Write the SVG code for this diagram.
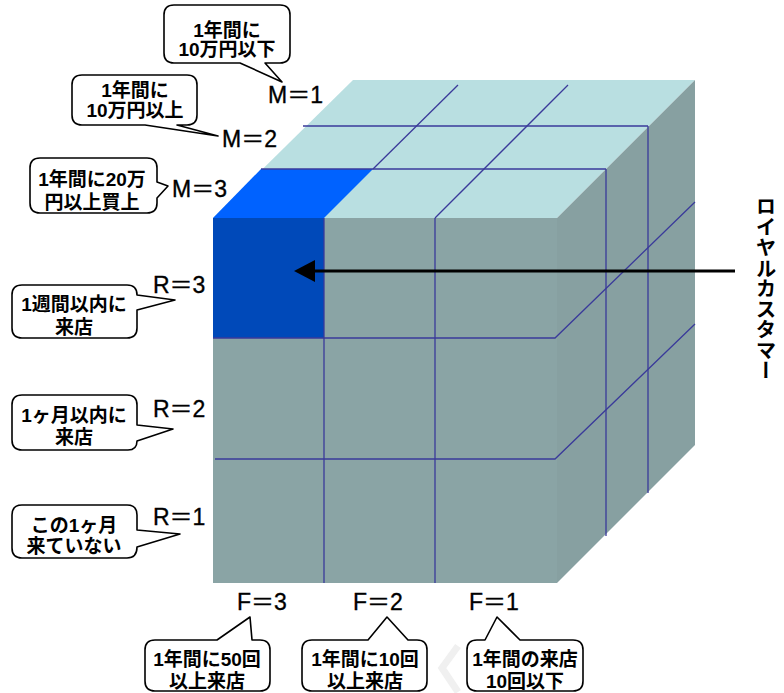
<svg xmlns="http://www.w3.org/2000/svg" width="784" height="693" viewBox="0 0 784 693">
<style>
.bub{fill:#fff;stroke:#000;stroke-width:1.6;stroke-linejoin:round}
.bt{font-family:"Liberation Sans","Noto Sans CJK JP",sans-serif;font-weight:bold;font-size:19px;fill:#000;text-anchor:middle}
.lb{font-family:"Liberation Sans","Noto Sans CJK JP",sans-serif;font-size:23px;fill:#000;stroke:#000;stroke-width:0.35}
.g{stroke:#3a3a9a;stroke-width:1.3;fill:none}
</style>
<rect width="784" height="693" fill="#fff"/>
<g id="cube">
<polygon points="213,218 557,218 695,80 353,80" fill="#b9dfe1"/>
<polygon points="557,218 695,80 695,445 557,583" fill="#87a0a1"/>
<rect x="213" y="218" width="344" height="365" fill="#8aa4a5"/>
<polygon points="213,218 324,218 373,169 261,169" fill="#0062ff"/>
<rect x="213" y="218" width="111" height="120" fill="#0049b9"/>
<g class="g">
<line x1="303" y1="126" x2="648" y2="126"/>
<line x1="261" y1="169" x2="606" y2="169"/>
<line x1="458" y1="85" x2="373" y2="169"/>
<line x1="568" y1="85" x2="435" y2="218"/>
<line x1="606" y1="169" x2="606" y2="536"/>
<line x1="648" y1="126" x2="648" y2="493"/>
<line x1="324" y1="218" x2="324" y2="583"/>
<line x1="435" y1="218" x2="435" y2="583"/>
<polyline points="213,338 555,338 695,202"/>
<polyline points="215,459 555,459 695,324"/>
</g>
</g>
<g id="connectors">
<line x1="735" y1="271" x2="310" y2="271" stroke="#000" stroke-width="3"/>
<polygon points="294,271 315,260 315,282" fill="#000"/>
</g>
<g id="royal">
<text x="766" y="196" style="writing-mode:vertical-rl;font-family:'Noto Sans CJK JP',sans-serif;font-weight:bold;font-size:20.5px" fill="#000">ロイヤルカスタマー</text>
</g>
<g id="m1">
<path class="bub" d="M174,5 H280 Q290,5 290,15 V53 Q290,63 280,63 H265 L282,82 L240,63 H174 Q164,63 164,53 V15 Q164,5 174,5 Z"/>
<text class="bt" x="227" y="37">1年間に</text>
<text class="bt" x="227" y="56">10万円以下</text>
<text class="lb" x="268" y="103">M＝1</text>
</g>
<g id="m2">
<path class="bub" d="M82,75 H187 Q197,75 197,85 V115 Q197,125 187,125 H177 L218,136 L145,125 H82 Q72,125 72,115 V85 Q72,75 82,75 Z"/>
<text class="bt" x="135" y="97">1年間に</text>
<text class="bt" x="135" y="117">10万円以上</text>
<text class="lb" x="222" y="147">M＝2</text>
</g>
<g id="m3">
<path class="bub" d="M40,158 H147 Q157,158 157,168 V182 L168,186 L157,198 V203 Q157,213 147,213 H40 Q30,213 30,203 V168 Q30,158 40,158 Z"/>
<text class="bt" x="92" y="186">1年間に20万</text>
<text class="bt" x="92" y="209">円以上買上</text>
<text class="lb" x="172" y="197">M＝3</text>
</g>
<g id="r3">
<path class="bub" d="M22,285 H127 Q137,285 137,295 L175,300 L137,310 V328 Q137,338 127,338 H22 Q12,338 12,328 V295 Q12,285 22,285 Z"/>
<text class="bt" x="74" y="311">1週間以内に</text>
<text class="bt" x="74" y="334">来店</text>
<text class="lb" x="153" y="293">R＝3</text>
</g>
<g id="r2">
<path class="bub" d="M22,395 H127 Q137,395 137,405 V425 L173,429 L137,441 Q137,450 128,450 H22 Q12,450 12,440 V405 Q12,395 22,395 Z"/>
<text class="bt" x="74" y="422">1ヶ月以内に</text>
<text class="bt" x="74" y="444">来店</text>
<text class="lb" x="153" y="417">R＝2</text>
</g>
<g id="r1">
<path class="bub" d="M22,505 H127 Q137,505 137,515 V530 L180,534 L137,547 Q137,558 127,558 H22 Q12,558 12,548 V515 Q12,505 22,505 Z"/>
<text class="bt" x="74" y="532">この1ヶ月</text>
<text class="bt" x="74" y="553">来ていない</text>
<text class="lb" x="153" y="525">R＝1</text>
</g>
<g id="f3">
<path class="bub" d="M155,640 H217 L250,617 L252,640 H260 Q270,640 270,650 V681 Q270,691 260,691 H155 Q145,691 145,681 V650 Q145,640 155,640 Z"/>
<text class="bt" x="207" y="666">1年間に50回</text>
<text class="bt" x="207" y="688">以上来店</text>
<text class="lb" x="237" y="610">F＝3</text>
</g>
<g id="f2">
<path class="bub" d="M312,640 H368 L387,617 L408,640 H417 Q427,640 427,650 V681 Q427,691 417,691 H312 Q302,691 302,681 V650 Q302,640 312,640 Z"/>
<text class="bt" x="365" y="666">1年間に10回</text>
<text class="bt" x="365" y="688">以上来店</text>
<text class="lb" x="353" y="610">F＝2</text>
</g>
<g id="f1">
<path class="bub" d="M477,640 H485 L497,617 L520,640 H573 Q583,640 583,650 V681 Q583,691 573,691 H477 Q467,691 467,681 V650 Q467,640 477,640 Z"/>
<text class="bt" x="525" y="666">1年間の来店</text>
<text class="bt" x="525" y="688">10回以下</text>
<text class="lb" x="469" y="610">F＝1</text>
</g>
<polyline points="458,646 442,668 458,692" fill="none" stroke="#f0f0f0" stroke-width="7"/>
</svg>
